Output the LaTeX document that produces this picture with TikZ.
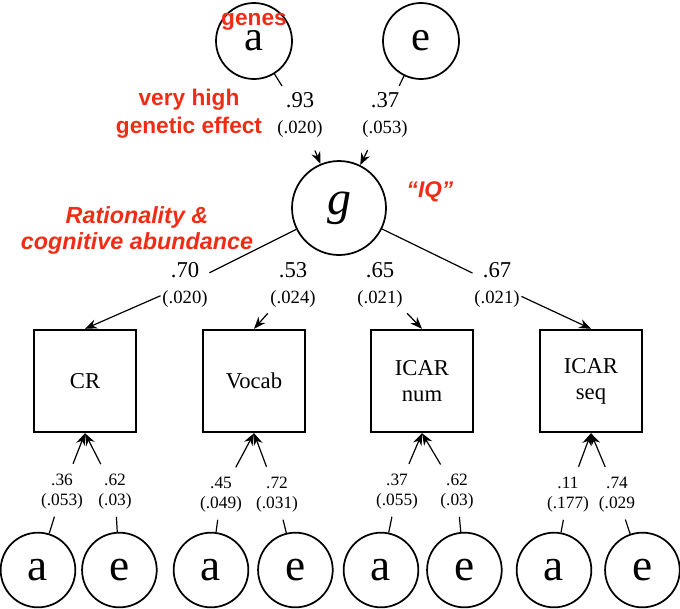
\documentclass[tikz,border=0pt]{standalone}
\usepackage{fontspec}
\setmainfont{Liberation Serif}
\newfontfamily\notefont{Liberation Sans}
\usetikzlibrary{arrows.meta, positioning}

\newcommand{\est}[2]{#1\\{\fontsize{14}{19.5}\selectfont #2}}

\begin{document}
\begin{tikzpicture}[x=0.75pt, y=-0.75pt, line width=0.9pt,
    >={Stealth[length=9pt, width=7pt]},
    latent/.style={draw, circle, line width=1.3pt, minimum size=56pt, inner sep=0pt,
        font=\fontsize{34}{34}\selectfont},
    indicator/.style={draw, rectangle, line width=1.3pt, minimum size=77pt, align=center,
        font=\fontsize{17}{19.5}\selectfont},
    coef/.style={align=center, inner sep=1pt, font=\fontsize{17}{19.5}\selectfont},
    smallcoef/.style={align=center, inner sep=1pt, font=\fontsize{13}{15}\selectfont},
    note/.style={text=notecolor, align=center, inner sep=0pt,
        font=\notefont\bfseries\fontsize{17}{20}\selectfont}]
            % Colours
            \definecolor{notecolor}{RGB}{240,45,20}

            \useasboundingbox (0,0) rectangle (680,608);

            % Top factors
            \node[latent, minimum size=57pt, font=\fontsize{32}{32}\selectfont] (aTop) at (254,41) {a};
            \node[latent, minimum size=57pt, font=\fontsize{32}{32}\selectfont] (eTop) at (421,41) {e};

            % General factor
            \node[latent, minimum size=70.5pt, font=\fontsize{36}{36}\selectfont\itshape] (g) at (339,208) {g};

            % Tests
            \node[indicator] (CR) at (85,381) {CR};
            \node[indicator] (Vocab) at (254,381) {Vocab};
            \node[indicator] (num) at (422,381) {ICAR\\num};
            \node[indicator] (seq) at (591,381) {ICAR\\seq};

            % Bottom a and e
            \node[latent] (aCR) at (38,570) {a};
            \node[latent, right=3.75pt of aCR] (eCR) {e};
            \node[latent] (aVocab) at (211,570) {a};
            \node[latent, right=6pt of aVocab] (eVocab) {e};
            \node[latent] (aNum) at (381,570) {a};
            \node[latent, right=5.25pt of aNum] (eNum) {e};
            \node[latent] (aSeq) at (554,570) {a};
            \node[latent, right=9pt of aSeq] (eSeq) {e};

            % Loadings on g
            \node[coef] (l93) at (300,115) {\est{.93}{(.020)}};
            \node[coef] (l37) at (385,115) {\est{.37}{(.053)}};

            % Loadings of the tests
            \node[coef] (l70) at (185,285) {\est{.70}{(.020)}};
            \node[coef] (l53) at (293,285) {\est{.53}{(.024)}};
            \node[coef] (l65) at (380,285) {\est{.65}{(.021)}};
            \node[coef] (l67) at (497,285) {\est{.67}{(.021)}};

            % Loadings on the tests
            \node[smallcoef] (l36) at (62,492) {.36\\(.053)};
            \node[smallcoef] (l62a) at (115,492) {.62\\(.03)};
            \node[smallcoef] (l45) at (221,495) {.45\\(.049)};
            \node[smallcoef] (l72) at (277,495) {.72\\(.031)};
            \node[smallcoef] (l37b) at (397,492) {.37\\(.055)};
            \node[smallcoef] (l62b) at (457,492) {.62\\(.03)};
            \node[smallcoef] (l11) at (568,495) {.11\\(.177)};
            \node[smallcoef] (l74) at (617,495) {.74\\(.029};

            % Arrows into g
            \draw[shorten >=4pt] (aTop) -- (l93);
            \draw[->, shorten <=9pt] (l93) -- (g);
            \draw[shorten >=4pt] (eTop) -- (l37);
            \draw[->, shorten <=9pt] (l37) -- (g);

            % Arrows from g
            \draw (g) -- (l70);
            \draw[->] (l70) -- (CR.north);
            \draw[->, shorten <=4pt] (l53) -- (Vocab.north);
            \draw[->, shorten <=4pt] (l65) -- (num.north);
            \draw (g) -- (l67);
            \draw[->] (l67) -- (seq.north);

            % Arrows from a and e
            \draw[shorten >=4pt] (aCR) -- (l36);
            \draw[->, shorten <=7pt] (l36) -- (CR.south);
            \draw[shorten >=4pt] (eCR) -- (l62a);
            \draw[->, shorten <=7pt] (l62a) -- (CR.south);
            \draw[shorten >=4pt] (aVocab) -- (l45);
            \draw[->, shorten <=7pt] (l45) -- (Vocab.south);
            \draw[shorten >=4pt] (eVocab) -- (l72);
            \draw[->, shorten <=7pt] (l72) -- (Vocab.south);
            \draw[shorten >=4pt] (aNum) -- (l37b);
            \draw[->, shorten <=7pt] (l37b) -- (num.south);
            \draw[shorten >=4pt] (eNum) -- (l62b);
            \draw[->, shorten <=7pt] (l62b) -- (num.south);
            \draw[shorten >=4pt] (aSeq) -- (l11);
            \draw[->, shorten <=7pt] (l11) -- (seq.south);
            \draw[shorten >=4pt] (eSeq) -- (l74);
            \draw[->, shorten <=7pt] (l74) -- (seq.south);

            % Notes
            \node[note] (genes) at (254,22) {genes};
            \node[note, font=\notefont\bfseries\fontsize{17}{21}\selectfont] (effect) at (189,114) {very high\\genetic effect};
            \node[note, font=\notefont\bfseries\itshape\fontsize{17}{20}\selectfont] (iq) at (430,192) {“IQ”};
            \node[note, font=\notefont\bfseries\itshape\fontsize{17.5}{19.5}\selectfont] (ratio) at (137,230) {Rationality \&\\cognitive abundance};

        \end{tikzpicture}
\end{document}
